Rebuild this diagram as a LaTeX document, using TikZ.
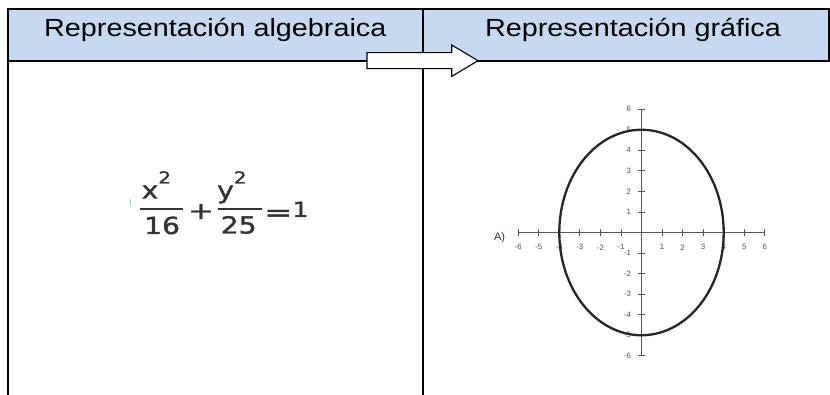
\documentclass[tikz,border=0pt]{standalone}
\usepackage{fontspec}
\setmainfont{Liberation Sans}
\newfontfamily\hdrfont[FakeStretch=1.16]{Liberation Sans}
\newfontfamily\eqfont[FakeStretch=1.2,FakeBold=1.4]{DejaVu Sans}
\usetikzlibrary{positioning,calc}
\definecolor{headfill}{HTML}{C6D9F1}
\definecolor{eqgray}{HTML}{333333}
\definecolor{axisgray}{HTML}{555555}
\definecolor{lblgray}{HTML}{4D4D4D}
\definecolor{cursorblue}{HTML}{9CC8EE}
\definecolor{tagblue}{RGB}{40,50,72}
\newcommand{\sqd}[1]{#1\raisebox{15pt}{\fontsize{16.5}{17}\selectfont 2}}

\begin{document}
\begin{tikzpicture}[x=1pt,y=-1pt,
  hdr/.style={font=\hdrfont\fontsize{24.8}{26}\selectfont,inner sep=0,anchor=base},
  eqtxt/.style={font=\eqfont\fontsize{23.5}{24}\selectfont,text=eqgray,inner sep=0},
  rule/.style={line width=2pt},
  bar/.style={line width=2pt,eqgray},
  ax/.style={axisgray,line width=0.8pt},
  ticklbl/.style={font=\fontsize{7.8}{8}\selectfont,text=lblgray,inner sep=0}
]
\useasboundingbox (0,0) rectangle (830,395);

% table
\coordinate (tl) at (8,9);
\coordinate (tr) at (829,9);
\coordinate (hl) at (8,61);
\coordinate (hr) at (829,61);
\coordinate (mt) at (423,9);
\coordinate (mb) at (423,395);
\coordinate (lb) at (8,395);
\fill[headfill] (tl) rectangle (hr);
\draw[rule] (lb) -- (tl) -- (tr) -- (hr) -- (hl);
\draw[rule] (mt) -- (mb);

\node[hdr] (algtitle) at (215.3,36.9) {Representación algebraica};
\node[hdr] (graftitle) at (633,36.9) {Representación gráfica};

% block arrow
\draw[fill=white,line width=1.1pt]
  (367,52.7) -- (451.7,52.7) -- (451.7,45) -- (478,60.7)
  -- (451.7,76.4) -- (451.7,68.6) -- (367,68.6) -- cycle;

% equation
\draw[cursorblue,line width=1pt] (130,199.5) -- (130,206.5);
\node[eqtxt,anchor=base west] (numx) at (141.5,198.5) {\sqd{x}};
\node[eqtxt,anchor=base] (den16) at (162,234) {16};
\draw[bar] (140,209) -- (182.7,209);
\node[eqtxt] (plus) at (201,211.5) {\scalebox{1.1}[1]{+}};
\node[eqtxt,anchor=base west] (numy) at (217,198.5) {\sqd{y}};
\node[eqtxt,anchor=base] (den25) at (238.7,233.5) {25};
\draw[bar] (217.5,209.3) -- (261.7,209.3);
\node[eqtxt] (eqsign) at (278.3,215.3) {\scalebox{1.2}[1]{=}};
\node[eqtxt,anchor=base,font=\eqfont\fontsize{21}{21}\selectfont] (one) at (300.5,217) {1};

% graph
\node[font=\fontsize{11}{12}\selectfont,text=tagblue,inner sep=0] (tag) at (499.5,238) {A)};
\begin{scope}[shift={(641.5,232.5)},x=20.55pt,y=20.55pt]
  \draw[ax] (-6,0) -- (6,0);
  \draw[ax] (0,-6) -- (0,6);
  \foreach \i [count=\k] in {-6,-5,-4,-3,-2,-1,1,2,3,4,5,6}{
    \draw[ax] (\i,-0.17) -- (\i,0.17);
    \draw[ax] (-0.17,\i) -- (0.17,\i);
    \node[ticklbl] (xl\k) at (\i,-0.72) {\i};
    \node[ticklbl,anchor=east] (yl\k) at (-0.5,\i) {\i};
  }
  \draw[line width=2.3pt,black!85] (0,0) ellipse [x radius=4,y radius=5];
\end{scope}
\end{tikzpicture}
\end{document}
